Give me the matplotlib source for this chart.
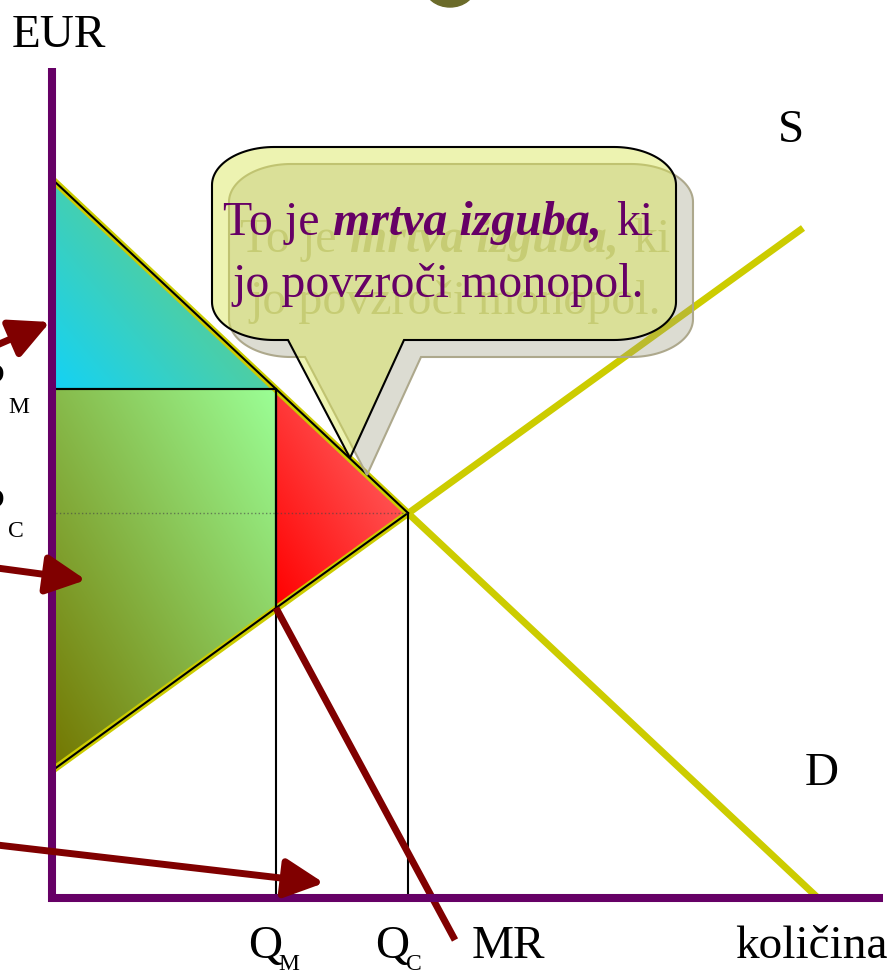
import numpy as np
import matplotlib
matplotlib.use("Agg")
import matplotlib.pyplot as plt
from matplotlib.patches import Polygon, Ellipse
from matplotlib.offsetbox import TextArea, HPacker, AnnotationBbox

# market data (quantity / price units)
demand_q = [0.1, 76.6]
demand_p = [71.8, 0.0]
supply_q = [0.1, 75.1]
supply_p = [12.8, 67.0]
q_m, p_m = 22.4, 50.9     # monopoly
q_c, p_c = 35.6, 38.5     # competition
mc_at_qm = 29.0
mr_q = [22.4, 40.3]
mr_p = [29.0, -4.2]
axis_top = 83.0
axis_right = 83.1
# arrows: (start, end)
arrows = [((-5.5, 55.3), (-0.2, 57.6)),
          ((-5.5, 33.0), (3.4, 31.8)),
          ((-5.5, 5.3), (27.2, 1.5))]

callout_1 = ["To je", "mrtva izguba,", "ki"]
callout_2 = "jo povzroči monopol."

PURPLE = "#660066"
YELLOW = "#cccc00"
DARKRED = "#800000"
SERIF = "Liberation Serif"

fig = plt.figure(figsize=(8.91, 9.71), dpi=100)
ax = fig.add_axes([0, 0, 1, 1])
ax.axis("off")


def gradient_fill(verts, c0, c1, wu=0.5, wv=0.5, zorder=1):
    verts = np.array(verts)
    x0, x1 = verts[:, 0].min(), verts[:, 0].max()
    y0, y1 = verts[:, 1].min(), verts[:, 1].max()
    u, v = np.meshgrid(np.linspace(0, 1, 200), np.linspace(0, 1, 200))
    t = np.clip(wu * u + wv * v, 0, 1)[..., None]
    img = (1 - t) * np.array(c0) / 255 + t * np.array(c1) / 255
    poly = Polygon(verts, closed=True, transform=ax.transData)
    im = ax.imshow(img, extent=[x0, x1, y0, y1], origin="lower",
                   aspect="auto", zorder=zorder, interpolation="bilinear")
    im.set_clip_path(poly)


# consumer surplus (cyan -> green)
cs = [(0.1, demand_p[0]), (0.1, p_m), (q_m, p_m)]
gradient_fill(cs, (20, 210, 245), (105, 205, 125), 0.7, 0.55)
# producer surplus (olive -> light green)
ps = [(0.1, p_m), (q_m, p_m), (q_m, mc_at_qm), (0.1, supply_p[0])]
gradient_fill(ps, (115, 118, 0), (155, 255, 150), 0.5, 0.5)
# deadweight loss (red)
dwl = [(q_m, p_m), (q_c, p_c), (q_m, mc_at_qm)]
gradient_fill(dwl, (255, 0, 0), (255, 115, 115), 0.5, 0.5)

# thin outlines
for poly in (cs, ps, dwl):
    ax.add_patch(Polygon(poly, closed=True, fill=False, ec="black",
                         lw=1.5, zorder=3))
ax.plot([q_m, q_m], [0, p_m], color="black", lw=1.5, zorder=3)
ax.plot([q_c, q_c], [0, p_c], color="black", lw=1.5, zorder=3)
ax.plot([0, q_c], [p_c, p_c], color="#444444", lw=1, ls=":", alpha=0.6, zorder=3)

# demand, supply, MR
ax.plot(demand_q, demand_p, color=YELLOW, lw=5, solid_capstyle="butt", zorder=2.5)
ax.plot(supply_q, supply_p, color=YELLOW, lw=5, solid_capstyle="butt", zorder=2.5)
ax.plot(mr_q, mr_p, color=DARKRED, lw=5, solid_capstyle="butt", zorder=4)

# axes
ax.plot([0, 0], [-0.4, axis_top], color=PURPLE, lw=5.8, solid_capstyle="butt", zorder=5)
ax.plot([-0.4, axis_right], [0, 0], color=PURPLE, lw=5.8, solid_capstyle="butt", zorder=5)

# arrows
for (s, e) in arrows:
    ax.annotate("", xy=e, xytext=s, zorder=6,
                arrowprops=dict(arrowstyle="-|>,head_length=1.2,head_width=0.6",
                                mutation_scale=20, lw=5, color=DARKRED,
                                shrinkA=0, shrinkB=0))

# olive blob at top
ax.add_patch(Ellipse((39.8, 91.1), 5.0, 4.0, color="#6b6b2a", zorder=1))


# callout bubble
def bubble(x0, x1, y0, y1, rx, ry, tail):
    pts = []
    def arc(cx, cy, a0, a1):
        a = np.linspace(np.radians(a0), np.radians(a1), 30)
        return list(zip(cx + rx * np.cos(a), cy + ry * np.sin(a)))
    pts += arc(x1 - rx, y1 - ry, 0, 90)
    pts += arc(x0 + rx, y1 - ry, 90, 180)
    pts += arc(x0 + rx, y0 + ry, 180, 270)
    pts += [tail[0], tail[1], tail[2]]
    pts += arc(x1 - rx, y0 + ry, 270, 360)
    return np.array(pts)


bx = bubble(16.0, 62.4, 55.8, 75.1, 6.2, 3.8,
            [(23.6, 55.8), (29.8, 44.0), (35.2, 55.8)])
off = np.array([1.7, -1.7])
ax.add_patch(Polygon(bx + off, closed=True, fc=(0.61, 0.61, 0.5), alpha=0.35,
                     ec="none", zorder=7))
ax.add_patch(Polygon(bx + off, closed=True, fill=False,
                     ec=(0.68, 0.66, 0.55), lw=1.5, zorder=7))


def callout_text(dx, dy, color, alpha, z):
    fp = dict(family=SERIF, size=34.5, color=color, alpha=alpha)
    fpb = dict(family=SERIF, size=34.5, color=color, alpha=alpha,
               weight="bold", style="italic")
    row = HPacker(children=[TextArea(callout_1[0], textprops=fp),
                            TextArea(callout_1[1], textprops=fpb),
                            TextArea(callout_1[2], textprops=fp)],
                  sep=10, align="baseline", pad=0)
    ab = AnnotationBbox(row, (38.6 + dx, 67.5 + dy), frameon=False,
                        box_alignment=(0.5, 0.5), zorder=z, pad=0)
    ax.add_artist(ab)
    ax.text(38.6 + dx, 61.3 + dy, callout_2, ha="center", va="center",
            zorder=z, **fp)


callout_text(off[0], off[1], (0.55, 0.55, 0.25), 0.45, 7.5)
ax.add_patch(Polygon(bx, closed=True, fc=(0.85, 0.9, 0.32), alpha=0.45,
                     ec="none", zorder=8))
ax.add_patch(Polygon(bx, closed=True, fill=False, ec="black", lw=1.5, zorder=8))
callout_text(0, 0, PURPLE, 1.0, 9)

# labels
lab = dict(family=SERIF, size=34, color="black")
sub = dict(family=SERIF, size=17, color="black")
ax.text(-4.0, 85.1, "EUR", ha="left", va="baseline", **lab)
ax.text(72.6, 75.6, "S", ha="left", va="baseline", **lab)
ax.text(75.3, 11.3, "D", ha="left", va="baseline", **lab)
ax.text(42.0, -6.0, "MR", ha="left", va="baseline", **lab)
ax.text(68.3, -6.0, "količina", ha="left", va="baseline", **lab)
ax.text(19.6, -6.0, "Q", ha="left", va="baseline", **lab)
ax.text(22.6, -7.2, "M", ha="left", va="baseline", **sub)
ax.text(32.3, -6.0, "Q", ha="left", va="baseline", **lab)
ax.text(35.4, -7.2, "C", ha="left", va="baseline", **sub)
ax.text(-4.7, 50.3, "P", ha="right", va="baseline", **lab)
ax.text(-4.4, 48.5, "M", ha="left", va="baseline", **sub)
ax.text(-4.7, 37.8, "P", ha="right", va="baseline", **lab)
ax.text(-4.4, 36.1, "C", ha="left", va="baseline", **sub)

ax.set_xlim(-5.2, 83.9)
ax.set_ylim(-7.3, 89.8)
fig.savefig("out.png", dpi=100)
